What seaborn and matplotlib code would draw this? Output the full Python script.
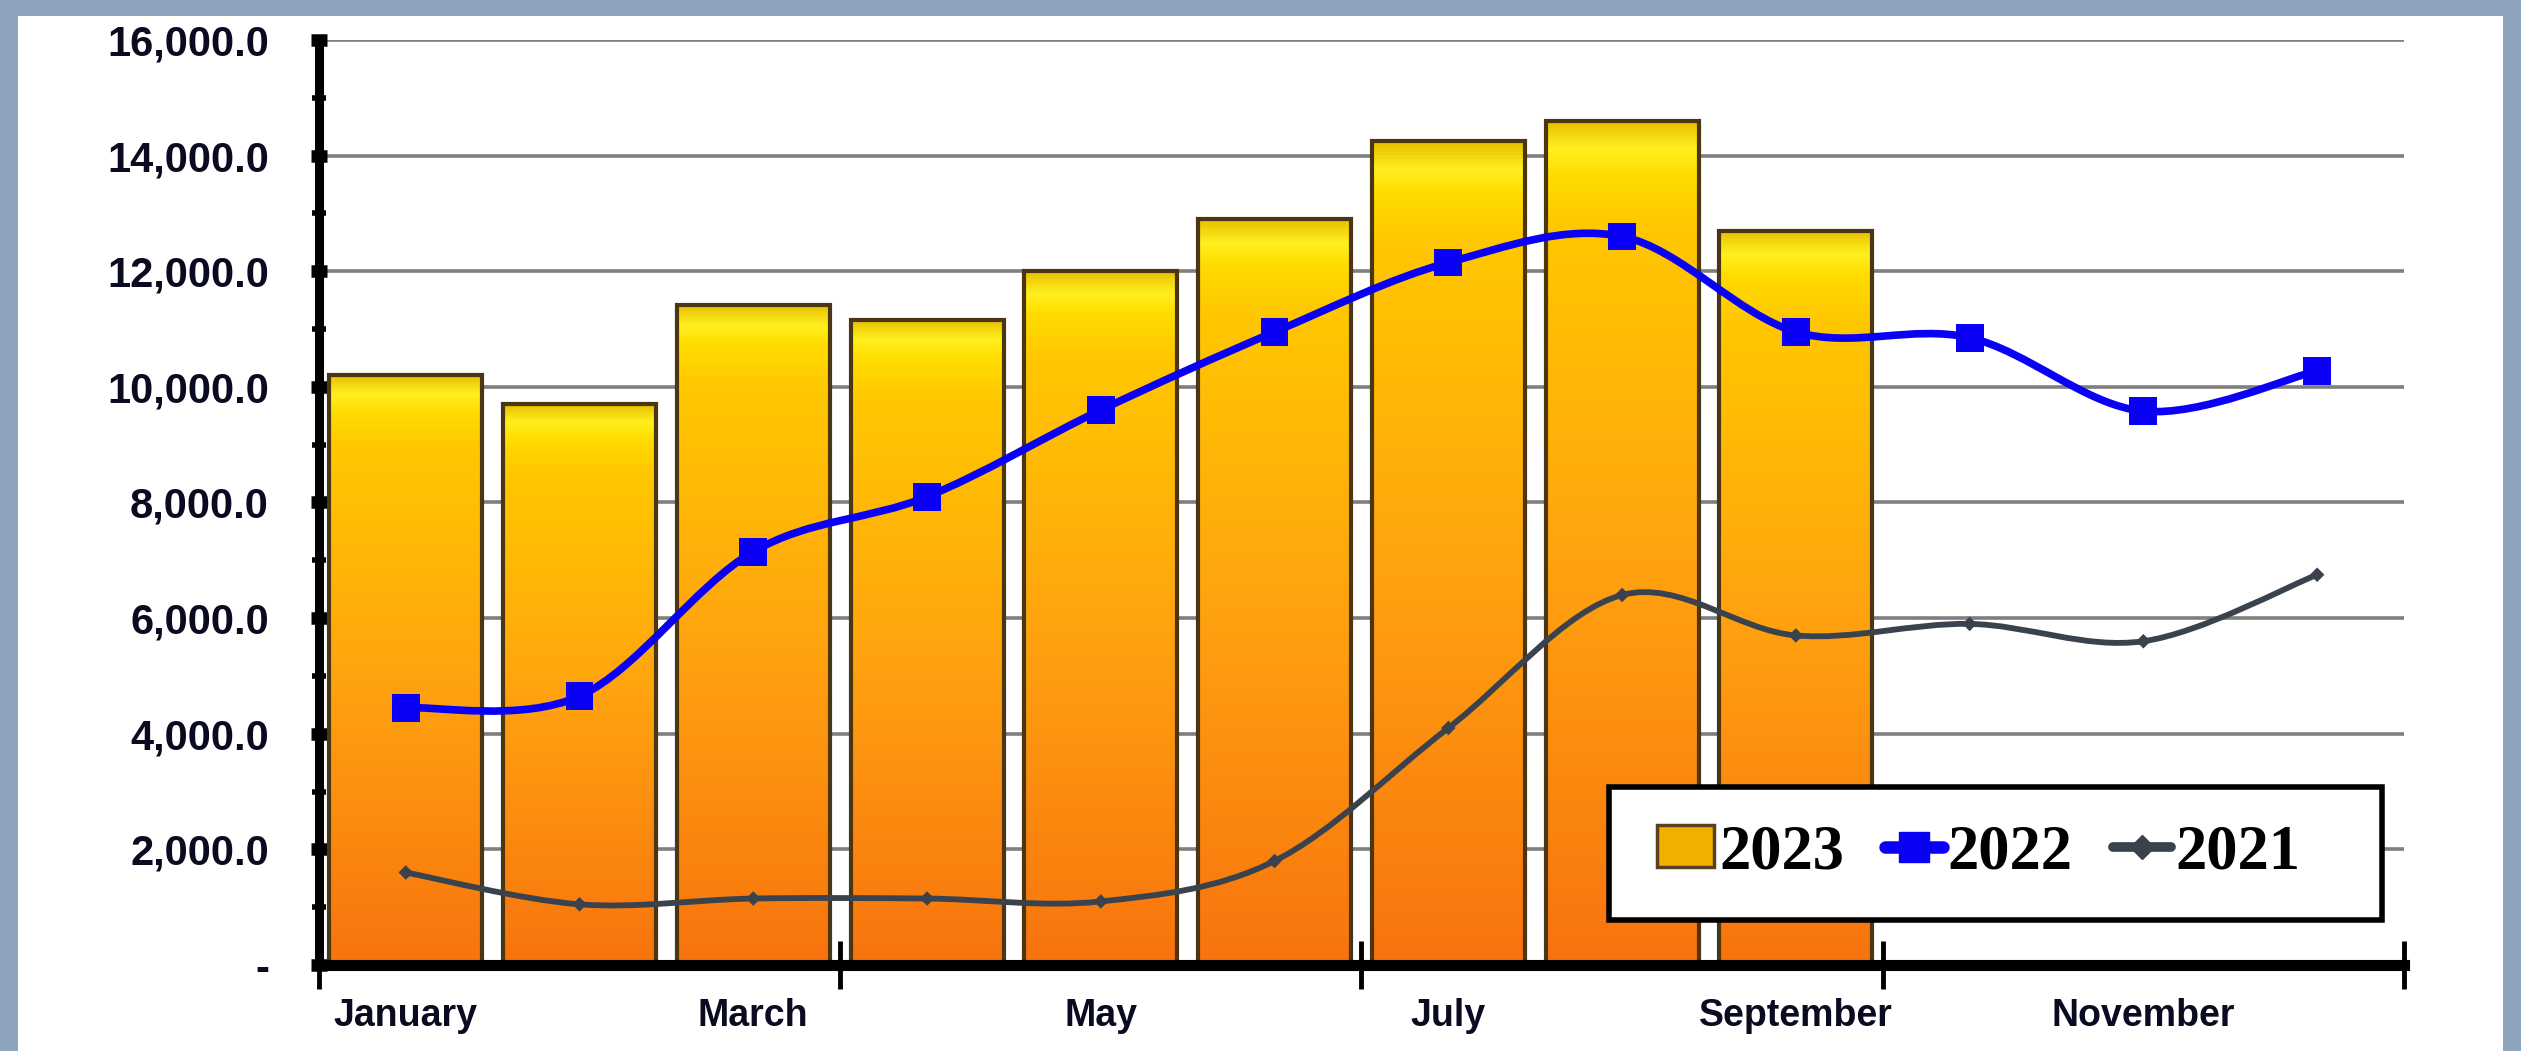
import numpy as np
import pandas as pd
import matplotlib
matplotlib.use('Agg')
import matplotlib.pyplot as plt
import seaborn as sns
from matplotlib.path import Path
from matplotlib.patches import PathPatch, Rectangle, Patch
from matplotlib.lines import Line2D
from matplotlib.ticker import FixedLocator, FuncFormatter
from matplotlib.colors import LinearSegmentedColormap

sns.set_style("white")
plt.rcParams['font.family'] = ['Liberation Sans', 'DejaVu Sans']

# --- data ---
months = ['January', 'February', 'March', 'April', 'May', 'June', 'July',
          'August', 'September', 'October', 'November', 'December']
label_months = ['January', 'March', 'May', 'July', 'September', 'November']
v2023 = [10200, 9700, 11420, 11160, 12000, 12900, 14250, 14600, 12700]
v2022 = [4450, 4650, 7150, 8100, 9600, 10950, 12150, 12600, 10950, 10850, 9580, 10280]
v2021 = [1600, 1050, 1150, 1150, 1100, 1800, 4100, 6400, 5700, 5900, 5600, 6750]

fig = plt.figure(figsize=(25.21, 10.51), dpi=100)
fig.patch.set_facecolor('#8ea4bc')
# white slide area
fig.add_artist(Rectangle((0.007, 0.0), 0.986, 0.985, transform=fig.transFigure,
                         facecolor='white', edgecolor='none', zorder=0))

ax = fig.add_axes([0.1265, 0.0818, 0.8271, 0.8802])
ax.set_facecolor('none')

# bars 2023
df23 = pd.DataFrame({'month': months[:len(v2023)], 'value': v2023})
sns.barplot(data=df23, x='month', y='value', order=months, width=0.88,
            color='#ffb000', edgecolor='#4a3612', linewidth=3, saturation=1,
            ax=ax, zorder=3)

cmap = LinearSegmentedColormap.from_list(
    'bar', [(0.0, '#f8730e'), (0.45, '#ffa010'), (0.88, '#ffc800'),
            (0.94, '#ffdc00'), (0.97, '#fff020'), (1.0, '#e8c000')])
grad = np.linspace(0, 1, 256).reshape(-1, 1)
for p in list(ax.patches):
    x0, w, h = p.get_x(), p.get_width(), p.get_height()
    if not np.isfinite(h) or h <= 0:
        continue
    p.set_facecolor('none')
    im = ax.imshow(grad, cmap=cmap, origin='lower', aspect='auto',
                   extent=[x0, x0 + w, 0, h], zorder=2.9, interpolation='bilinear')
    im.set_clip_path(p)

# smooth lines (Catmull-Rom as cubic Bezier path)
def smooth_path(ys):
    xs = np.arange(len(ys), dtype=float)
    pts = np.column_stack([xs, np.asarray(ys, dtype=float)])
    verts = [pts[0]]
    codes = [Path.MOVETO]
    n = len(pts)
    for i in range(n - 1):
        p0 = pts[max(i - 1, 0)]
        p1 = pts[i]
        p2 = pts[i + 1]
        p3 = pts[min(i + 2, n - 1)]
        verts += [p1 + (p2 - p0) / 6.0, p2 - (p3 - p1) / 6.0, p2]
        codes += [Path.CURVE4] * 3
    return Path(verts, codes)

ax.add_patch(PathPatch(smooth_path(v2021), facecolor='none', edgecolor='#3a434d',
                       linewidth=4.2, zorder=4, capstyle='round'))
ax.add_patch(PathPatch(smooth_path(v2022), facecolor='none', edgecolor='#0a00f5',
                       linewidth=5.5, zorder=5, capstyle='round'))

xpos = np.arange(len(months))
sns.scatterplot(x=xpos, y=v2021, marker='D', s=55, color='#3a434d',
                edgecolor='none', ax=ax, zorder=4.5, legend=False)
sns.scatterplot(x=xpos, y=v2022, marker='s', s=400, color='#0a00f5',
                edgecolor='none', ax=ax, zorder=6, legend=False)

# axes
ax.set_xlim(-0.5, 11.5)
ax.set_ylim(0, 16000)
ax.set_xlabel('')
ax.set_ylabel('')
for s in ['top', 'right']:
    ax.spines[s].set_visible(False)
ax.spines['left'].set_linewidth(6.5)
ax.spines['bottom'].set_linewidth(8)
for s in ['left', 'bottom']:
    ax.spines[s].set_color('black')
    ax.spines[s].set_zorder(7)

ax.set_axisbelow(True)
ax.yaxis.grid(True, color='#7f7f7f', linewidth=2.6)
ax.xaxis.grid(False)

ax.yaxis.set_major_locator(FixedLocator(np.arange(0, 16001, 2000)))
ax.yaxis.set_minor_locator(FixedLocator(np.arange(1000, 16000, 2000)))
ax.yaxis.set_major_formatter(FuncFormatter(lambda v, pos: '-' if v == 0 else f'{v:,.1f}'))
ax.tick_params(axis='y', which='major', left=True, direction='inout', length=12, width=9,
               color='black', labelsize=30, pad=30, labelcolor='#0a0a20')
ax.tick_params(axis='y', which='minor', left=True, direction='inout', length=10, width=4,
               color='black')
for t in ax.get_yticklabels():
    t.set_fontweight('bold')

ax.xaxis.set_major_locator(FixedLocator([-0.5, 2.5, 5.5, 8.5, 11.5]))
ax.xaxis.set_major_formatter(FuncFormatter(lambda v, pos: ''))
ax.xaxis.set_minor_locator(FixedLocator([months.index(m) for m in label_months]))
ax.xaxis.set_minor_formatter(FuncFormatter(lambda v, pos: months[int(round(v))]))
ax.tick_params(axis='x', which='major', bottom=True, direction='inout', length=34, width=3.5,
               color='black')
ax.tick_params(axis='x', which='minor', bottom=True, length=0, labelsize=27, pad=24,
               labelcolor='#0a0a20')
for t in ax.get_xticklabels(minor=True):
    t.set_fontweight('bold')

# legend: fixed white box with the entries on the left side of it
ax.add_patch(Rectangle((0.6186, 0.0486), 0.3708, 0.1438, transform=ax.transAxes,
                       facecolor='white', edgecolor='black', linewidth=4,
                       clip_on=False, zorder=9))
handles = [
    Patch(facecolor='#f0b000', edgecolor='#5a4020', linewidth=2.5),
    Line2D([], [], color='#0a00f5', linewidth=9, marker='s', markersize=21),
    Line2D([], [], color='#3a434d', linewidth=7, marker='D', markersize=12),
]
leg = ax.legend(handles, ['2023', '2022', '2021'], ncol=3, loc='center left',
                bbox_to_anchor=(0.6417, 0.121), frameon=False,
                handlelength=0.92, handleheight=0.65, handletextpad=0.08, borderpad=0,
                columnspacing=0.65, borderaxespad=0, labelcolor='black',
                prop={'family': ['Liberation Serif', 'DejaVu Serif'], 'weight': 'bold',
                      'size': 45})
leg.set_zorder(10)

fig.savefig('out.png', dpi=100, facecolor=fig.get_facecolor())
